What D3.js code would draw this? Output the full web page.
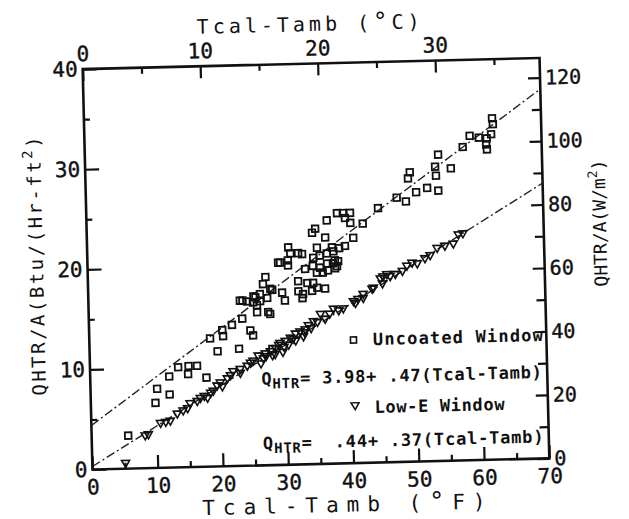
<!DOCTYPE html>
<html><head><meta charset="utf-8">
<script src="https://cdn.jsdelivr.net/npm/d3@7"></script>
<style>
body{margin:0;background:#fff;}
svg text{font-family:"DejaVu Sans Mono","Liberation Mono",monospace;fill:#111;}
</style></head><body>
<svg id="chart" width="629" height="519"></svg>
<script>
// ---- data ----
const uncoated = [
[5.6,3.3],[9.9,6.5],[10.2,7.9],[12.1,7.3],[12.1,9.1],[13.5,10.0],[15.1,10.1],[16.4,10.1],[15.0,9.3],[17.8,8.9],
[19.6,11.5],[22.9,11.7],[18.5,12.8],[20.4,13.6],[20.5,13.0],[21.9,14.1],[23.5,14.7],[24.7,13.5],[25.1,13.0],[28.0,11.6],
[23.6,16.5],[24.3,16.4],[25.2,16.3],[26.3,16.4],[27.4,16.7],[25.3,16.9],[26.3,17.1],[28.2,17.5],[26.8,18.1],[27.2,18.8],
[29.2,20.2],[25.8,16.0],[25.8,15.3],[27.8,15.1],[27.5,15.3],
[47.6,26.4],[44.7,25.4],[42.3,23.9],[40.8,22.5],[39.5,21.7],[38.6,21.5],[38.4,25.0],[39.3,25.0],[40.4,25.0],[39.6,24.5],
[40.4,24.0],[36.8,24.3],[35.0,23.5],[34.5,23.1],[36.5,22.6],[30.8,21.7],[35.2,21.6],[31.1,21.1],[32.3,21.1],[32.9,21.0],
[29.5,20.2],[30.7,20.4],[30.7,19.9],[34.6,20.6],[35.6,20.8],[36.7,21.0],[37.7,21.2],[34.5,19.8],[35.6,19.6],[36.7,20.0],
[37.6,20.0],[38.4,20.2],[38.2,19.7],[36.8,19.3],[36.0,19.1],[35.1,19.1],[33.3,19.5],[32.2,18.3],[27.9,17.6],[25.6,16.8],
[23.2,16.5],[29.7,17.2],[30.1,16.4],[32.2,17.3],[33.6,18.1],[34.5,18.1],[35.1,17.6],[34.3,17.3],[32.9,17.0],[32.8,16.6],
[36.3,17.5],[37.5,21.6],[37.9,20.3],[37.9,19.5],
[62.5,34.1],[62.6,33.5],[62.3,32.5],[61.6,32.1],[60.4,32.2],[59.0,32.4],[61.5,31.5],[61.6,31.0],[57.9,31.3],[54.1,30.6],
[53.6,29.4],[56.0,29.2],[49.7,28.9],[49.4,28.3],[53.7,28.5],[52.3,27.3],[54.0,27.0],[50.6,26.9],[49.0,26.0]
];
const lowE = [
[5.1,0.6],[8.2,3.3],[8.7,3.4],[10.6,4.5],[11.4,4.6],[12.1,4.7],[13.2,5.4],[14.1,5.7],[14.8,5.9],[15.2,6.4],[16.3,6.6],
[16.8,6.9],[17.4,7.1],[17.9,6.9],[18.8,7.6],[19.4,8.1],[19.9,8.4],[21.0,8.8],[21.9,9.5],[23.0,9.7],[24.1,10.0],
[25.0,10.5],[26.6,10.7],[27.7,11.4],[25.8,11.0],[26.9,11.2],[28.5,11.7],[24.6,10.3],[23.0,9.3],[21.5,9.1],[20.2,8.0],
[18.4,7.4],[26.2,10.2],[27.0,10.9],[28.0,11.0],
[29.2,12.2],[30.0,12.4],[30.8,12.7],[31.6,13.1],[32.3,13.3],[33.1,13.5],[33.6,13.9],[31.6,12.4],[32.8,12.8],[29.8,11.8],
[28.4,11.1],[29.6,11.3],[30.5,12.0],[31.2,12.6],[29.0,12.0],[33.0,13.2],[34.0,13.6],[36.2,14.5],[35.0,14.2],[36.9,15.0],
[38.3,15.3],[34.4,14.3],[35.5,15.0],[37.5,15.5],[39.0,15.5],[40.6,16.2],[42.1,16.5],[43.7,17.5],[44.8,18.4],[45.8,18.8],
[47.1,18.8],[57.6,22.7],[56.9,22.6],[56.1,21.7],[54.8,21.5],[53.6,21.3],[52.5,20.6],[51.7,20.3],[50.5,19.8],[49.7,19.9],
[48.9,19.6],[48.2,19.1],[46.3,18.6],[45.2,18.6],[45.1,17.9],[43.5,17.4],[42.1,16.9],[41.3,16.4],[40.9,16.0]
];
const fitUncoated = [[0,4.4],[70,36.9]];
const fitLowE = [[0,0.3],[70,27.5]];
const xTicksF = [0,10,20,30,40,50,60,70];
const xMinorF = [5,15,25,35,45,55,65];
const yTicksBtu = [0,10,20,30,40];
const yMinorBtu = [5,15,25,35];
const xTicksC = [0,10,20,30];
const xMinorC = [5,15,25,35];
const yTicksW = [0,20,40,60,80,100,120];
const yMinorW = [10,30,50,70,90,110];
const legendLabels = ["Uncoated Window","Low-E Window"];
const equationTexts = ["= 3.98+ .47(Tcal-Tamb)","=  .44+ .37(Tcal-Tamb)"];

// ---- layout ----
const W=629,H=519;
const x0=87.5,x1=544.5,yT=63.5,yB=464;
const svg=d3.select("#chart");
svg.append("rect").attr("width",W).attr("height",H).attr("fill","#fff");
const g=svg.append("g").attr("transform","rotate(-1.4,316,263.5)");

const x=d3.scaleLinear().domain([0,70]).range([x0,x1]);
const y=d3.scaleLinear().domain([0,40]).range([yB,yT]);
const xC=d3.scaleLinear().domain([0,70/1.8]).range([x0,x1]);
const yW=d3.scaleLinear().domain([0,40*3.1546]).range([yB,yT]);

function fin(sel,fs){
  sel.select(".domain").remove();
  sel.attr("font-size",fs);
  sel.selectAll("line").attr("stroke","#111").attr("stroke-width",2.2);
  sel.selectAll("text").attr("fill","#111").attr("stroke","#111").attr("stroke-width",0.4);
}
// bottom
g.append("g").attr("transform",`translate(0,${yB})`)
 .call(d3.axisBottom(x).tickValues(xTicksF).tickSizeInner(-13).tickSizeOuter(0).tickPadding(10).tickFormat(d3.format("d"))).call(fin,21);
g.append("g").attr("transform",`translate(0,${yB})`)
 .call(d3.axisBottom(x).tickValues(xMinorF).tickSizeInner(-6).tickSizeOuter(0).tickFormat(()=>"")).call(fin,21);
// top
g.append("g").attr("transform",`translate(0,${yT})`)
 .call(d3.axisTop(xC).tickValues(xTicksC).tickSizeInner(-12).tickSizeOuter(0).tickPadding(8).tickFormat(d3.format("d"))).call(fin,21);
g.append("g").attr("transform",`translate(0,${yT})`)
 .call(d3.axisTop(xC).tickValues(xMinorC).tickSizeInner(-6).tickSizeOuter(0).tickFormat(()=>"")).call(fin,21);
// left
g.append("g").attr("transform",`translate(${x0},0)`)
 .call(d3.axisLeft(y).tickValues(yTicksBtu).tickSizeInner(-14).tickSizeOuter(0).tickPadding(5).tickFormat(d3.format("d"))).call(fin,21);
g.append("g").attr("transform",`translate(${x0},0)`)
 .call(d3.axisLeft(y).tickValues(yMinorBtu).tickSizeInner(-6).tickSizeOuter(0).tickFormat(()=>"")).call(fin,21);
// right
g.append("g").attr("transform",`translate(${x1},0)`)
 .call(d3.axisRight(yW).tickValues(yTicksW).tickSizeInner(-12).tickSizeOuter(0).tickPadding(5).tickFormat(d3.format("d"))).call(fin,20);
g.append("g").attr("transform",`translate(${x1},0)`)
 .call(d3.axisRight(yW).tickValues(yMinorW).tickSizeInner(-9).tickSizeOuter(0).tickFormat(()=>"")).call(fin,20);

// frame
g.append("rect").attr("x",x0).attr("y",yT).attr("width",x1-x0).attr("height",yB-yT)
 .attr("fill","none").attr("stroke","#111").attr("stroke-width",2.6);

// fit lines
const line=d3.line().x(d=>x(d[0])).y(d=>y(d[1]));
[fitUncoated,fitLowE].forEach(f=>{
  g.append("path").attr("d",line(f)).attr("fill","none").attr("stroke","#222")
   .attr("stroke-width",1.4).attr("stroke-dasharray","9,3,2,3");
});

// points
g.selectAll("rect.u").data(uncoated).join("rect").attr("class","u")
 .attr("x",d=>x(d[0])-3.3).attr("y",d=>y(d[1])-3.3).attr("width",6.6).attr("height",6.6)
 .attr("fill","none").attr("stroke","#111").attr("stroke-width",1.8);
const tri=d3.symbol(d3.symbolTriangle,28);
g.selectAll("path.t").data(lowE).join("path").attr("class","t")
 .attr("d",tri).attr("transform",d=>`translate(${x(d[0])},${y(d[1])}) rotate(180)`)
 .attr("fill","none").attr("stroke","#111").attr("stroke-width",1.6);

// legend
g.append("rect").attr("x",351.6-3).attr("y",340.9-3).attr("width",6).attr("height",6)
 .attr("fill","none").attr("stroke","#111").attr("stroke-width",1.6);
g.append("path").attr("d",tri).attr("transform","translate(351.6,406) rotate(180)")
 .attr("fill","none").attr("stroke","#111").attr("stroke-width",1.5);
g.append("text").attr("x",371).attr("y",346.5).attr("font-size",17).attr("font-weight","bold")
 .attr("textLength",170).attr("lengthAdjust","spacing").text(legendLabels[0]);
g.append("text").attr("x",371).attr("y",414.5).attr("font-size",17).attr("font-weight","bold")
 .attr("textLength",130).attr("lengthAdjust","spacing").text(legendLabels[1]);
[[383.5,equationTexts[0]],[448,equationTexts[1]]].forEach(([yy,txt])=>{
  const t=g.append("text").attr("x",540).attr("y",yy).attr("text-anchor","end")
   .attr("font-size",17).attr("font-weight","bold").attr("letter-spacing",0.8).style("white-space","pre");
  t.append("tspan").text("Q");
  t.append("tspan").attr("font-size",14).attr("dy",4).text("HTR");
  t.append("tspan").attr("dy",-4).text(txt);
});

// axis titles
const tt=g.append("text").attr("x",316).attr("y",31).attr("text-anchor","middle").attr("font-size",20).attr("letter-spacing",4);
tt.append("tspan").text("Tcal-Tamb (");
tt.append("tspan").attr("font-size",24).text("°");
tt.append("tspan").text("C)");
const bt=g.append("text").attr("x",342).attr("y",512.5).attr("text-anchor","middle").attr("font-size",21).attr("letter-spacing",8);
bt.append("tspan").text("Tcal-Tamb (");
bt.append("tspan").attr("font-size",25).text("°");
bt.append("tspan").text("F)");
const lt=g.append("text").attr("transform","translate(43,258) rotate(-90)").attr("text-anchor","middle").attr("font-size",19).attr("letter-spacing",2.5);
lt.append("tspan").text("QHTR/A(Btu/(Hr-ft");
lt.append("tspan").attr("font-size",14).attr("dy",-8).text("2");
lt.append("tspan").attr("dy",8).text(")");
const rt=g.append("text").attr("transform","translate(607,230) rotate(-90)").attr("text-anchor","middle").attr("font-size",18);
rt.append("tspan").text("QHTR/A(W/m");
rt.append("tspan").attr("font-size",13).attr("dy",-8).text("2");
rt.append("tspan").attr("dy",8).text(")");
</script>
</body></html>
